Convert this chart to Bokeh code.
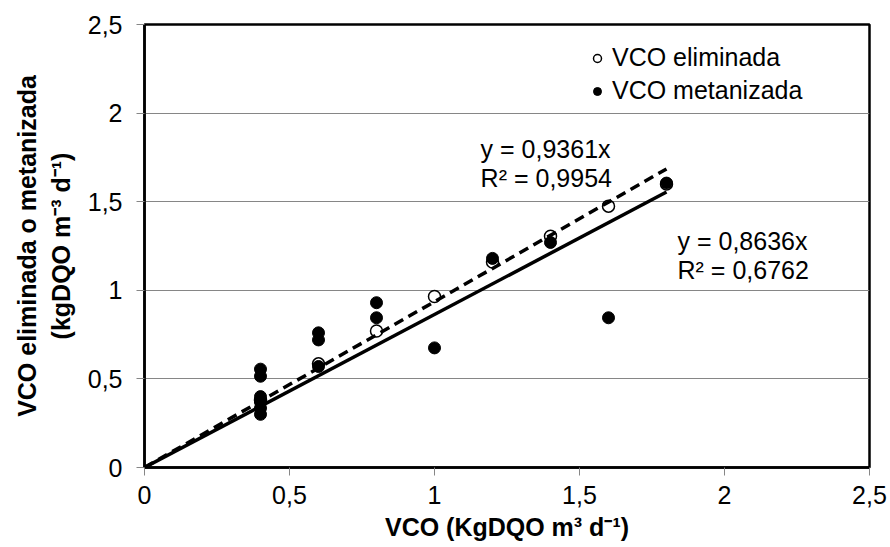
from bokeh.plotting import figure
from bokeh.models import Range1d, FixedTicker, Label, Legend, LegendItem
from bokeh.embed import file_html
from bokeh.resources import INLINE

# ---- data ----
elim_x = [0.4, 0.6, 0.8, 1.0, 1.2, 1.4, 1.6, 1.8]
elim_y = [0.38, 0.585, 0.77, 0.965, 1.16, 1.305, 1.475, 1.60]

met_x = [0.4, 0.4, 0.4, 0.4, 0.4, 0.4, 0.6, 0.6, 0.6, 0.8, 0.8, 1.0, 1.2, 1.4, 1.6, 1.8]
met_y = [0.555, 0.515, 0.40, 0.37, 0.335, 0.30, 0.76, 0.72, 0.57, 0.93, 0.845, 0.675, 1.18, 1.27, 0.845, 1.605]

elim_slope = 0.9361
elim_r2 = "0,9954"
met_slope = 0.8636
met_r2 = "0,6762"

axis_ticks = [0, 0.5, 1, 1.5, 2, 2.5]
axis_tick_labels = ["0", "0,5", "1", "1,5", "2", "2,5"]

FONT = "Liberation Sans"
FS = "25px"

p = figure(width=890, height=547, output_backend="svg", toolbar_location=None,
           x_range=Range1d(0, 2.5), y_range=Range1d(0, 2.5),
           min_border_left=144, min_border_right=21, min_border_top=24, min_border_bottom=80)
p.background_fill_color = "white"
p.border_fill_color = "white"
p.outline_line_color = "black"
p.outline_line_width = 2.5

overrides = {t: l for t, l in zip(axis_ticks, axis_tick_labels)}
for ax in (p.xaxis[0], p.yaxis[0]):
    ax.ticker = FixedTicker(ticks=axis_ticks)
    ax.major_label_overrides = overrides
    ax.axis_line_color = "black"
    ax.axis_line_width = 2.5
    ax.major_tick_line_color = "#868686"
    ax.major_tick_line_width = 1
    ax.major_tick_in = 0
    ax.major_tick_out = 8
    ax.minor_tick_line_color = None
    ax.major_label_text_font = FONT
    ax.major_label_text_font_size = FS
    ax.major_label_text_color = "black"
    ax.axis_label_text_font = FONT
    ax.axis_label_text_font_size = FS
    ax.axis_label_text_font_style = "bold"
    ax.axis_label_text_color = "black"

p.xaxis.axis_label = "VCO (KgDQO m\u00b3 d\u207b\u00b9)"
p.yaxis.axis_label = "VCO eliminada o metanizada\n(kgDQO m\u207b\u00b3 d\u207b\u00b9)"
p.xaxis.major_label_standoff = 10
p.xaxis.axis_label_standoff = 6
p.yaxis.major_label_standoff = 14
p.yaxis.axis_label_standoff = 10

p.xgrid.grid_line_color = None
p.ygrid.ticker = FixedTicker(ticks=axis_ticks)
p.ygrid.grid_line_color = "#868686"
p.ygrid.grid_line_width = 1

r_elim = p.scatter(elim_x, elim_y, marker="circle", size=12,
                   fill_color="white", line_color="black", line_width=1.5)
r_met = p.scatter(met_x, met_y, marker="circle", size=12,
                  fill_color="black", line_color="black", line_width=1)

fit_x_e = [0, max(elim_x)]
p.line(fit_x_e, [elim_slope * v for v in fit_x_e], line_color="black",
       line_width=3.5, line_dash="10 6")
fit_x_m = [0, max(met_x)]
p.line(fit_x_m, [met_slope * v for v in fit_x_m], line_color="black", line_width=3.5)

eq_style = dict(text_font=FONT, text_font_size=FS, text_color="black",
                text_baseline="alphabetic", text_align="left")
p.add_layout(Label(x=1.159, y=1.80, text="y = " + str(elim_slope).replace(".", ",") + "x", **eq_style))
p.add_layout(Label(x=1.159, y=1.631, text="R\u00b2 = " + elim_r2, **eq_style))
p.add_layout(Label(x=1.838, y=1.281, text="y = " + str(met_slope).replace(".", ",") + "x", **eq_style))
p.add_layout(Label(x=1.838, y=1.112, text="R\u00b2 = " + met_r2, **eq_style))

legend = Legend(items=[LegendItem(label="VCO eliminada", renderers=[r_elim]),
                       LegendItem(label="VCO metanizada", renderers=[r_met])],
                location=(443, 362), padding=0, margin=0, spacing=4,
                border_line_alpha=0, background_fill_alpha=0,
                label_text_font=FONT, label_text_font_size=FS, label_text_color="black",
                glyph_width=20, glyph_height=20, label_standoff=5)
p.add_layout(legend)

open("out.html", "w").write(file_html(p, INLINE))
